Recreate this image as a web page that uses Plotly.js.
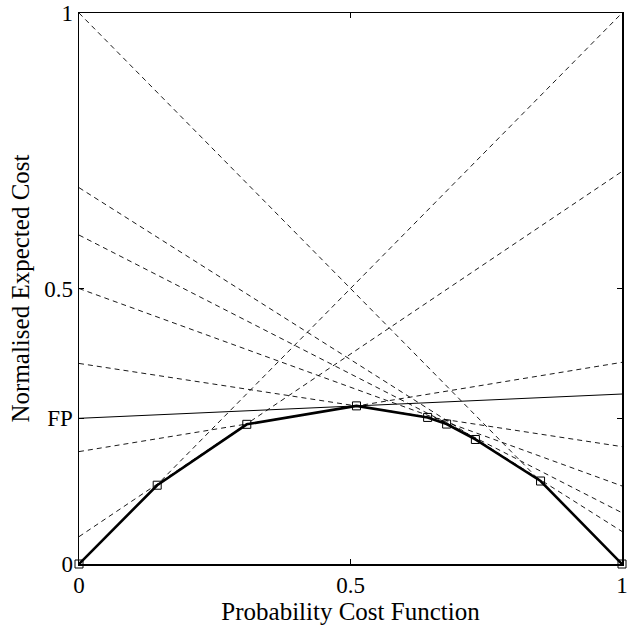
<!DOCTYPE html>
<html>
<head>
<meta charset="utf-8">
<script src="https://cdn.plot.ly/plotly-3.0.1.min.js"></script>
<style>html,body{margin:0;padding:0;background:#fff;}#chart{width:628px;height:629px;}</style>
</head>
<body>
<div id="chart"></div>
<script>
// Cost lines: value at probability cost 0 (left) and at 1 (right)
const lineLeft  = [0.0, 0.0496, 0.204, 0.364, 0.500, 0.597, 0.683, 1.0];
const lineRight = [1.0, 0.7124, 0.366, 0.213, 0.1416, 0.093, 0.059, 0.0];
// highlighted solid line (FP)
const fpLeft = 0.2644;
const fpRight = 0.3085;
// lower envelope vertices
const envX = [0, 0.144, 0.309, 0.511, 0.642, 0.677, 0.730, 0.850, 1];
const envY = [0, 0.143, 0.2535, 0.287, 0.266, 0.254, 0.226, 0.1506, 0];
// ticks
const xTickVals = [0, 0.5, 1];
const xTickText = ['0', '0.5', '1'];
const yTickVals = [0, fpLeft, 0.5, 1];
const yTickText = ['0', 'FP', '0.5', '1'];

const traces = [];
for (let i = 0; i < lineLeft.length; i++) {
  traces.push({
    x: [0, 1], y: [lineLeft[i], lineRight[i]],
    mode: 'lines', type: 'scatter', hoverinfo: 'skip',
    line: {color: '#000', width: 0.9, dash: '5px,4px'}
  });
}
traces.push({
  x: [0, 1], y: [fpLeft, fpRight], mode: 'lines', type: 'scatter',
  line: {color: '#000', width: 1}
});
traces.push({
  x: envX, y: envY, mode: 'lines+markers', type: 'scatter', cliponaxis: false,
  line: {color: '#000', width: 2.6},
  marker: {symbol: 'square-open', size: 8, color: '#000', line: {width: 1, color: '#000'}}
});

const fam = '"Liberation Serif", "Times New Roman", serif';
const tickFont = {family: fam, size: 23, color: '#000'};
const titleFont = {family: fam, size: 25, color: '#000'};
const layout = {
  width: 628, height: 629,
  margin: {l: 79, r: 6, t: 13, b: 65},
  showlegend: false,
  paper_bgcolor: '#fff', plot_bgcolor: '#fff',
  font: tickFont,
  xaxis: {
    range: [0, 1], tickvals: xTickVals, ticktext: xTickText,
    ticks: 'inside', ticklen: 5, tickwidth: 1, tickcolor: '#000',
    showline: true, linecolor: '#000', linewidth: 1.5, mirror: 'ticks',
    showgrid: false, zeroline: false, tickfont: tickFont,
    ticklabeloverflow: 'allow',
    title: {text: 'Probability Cost Function', font: titleFont, standoff: 0}
  },
  yaxis: {
    range: [0, 1], tickvals: yTickVals, ticktext: yTickText,
    ticks: 'inside', ticklen: 5, tickwidth: 1, tickcolor: '#000',
    showline: true, linecolor: '#000', linewidth: 1.5, mirror: 'ticks',
    showgrid: false, zeroline: false, tickfont: tickFont,
    ticklabeloverflow: 'allow',
    title: {text: 'Normalised Expected Cost', font: titleFont, standoff: 7}
  }
};
Plotly.newPlot('chart', traces, layout, {displayModeBar: false, staticPlot: true});
</script>
</body>
</html>
